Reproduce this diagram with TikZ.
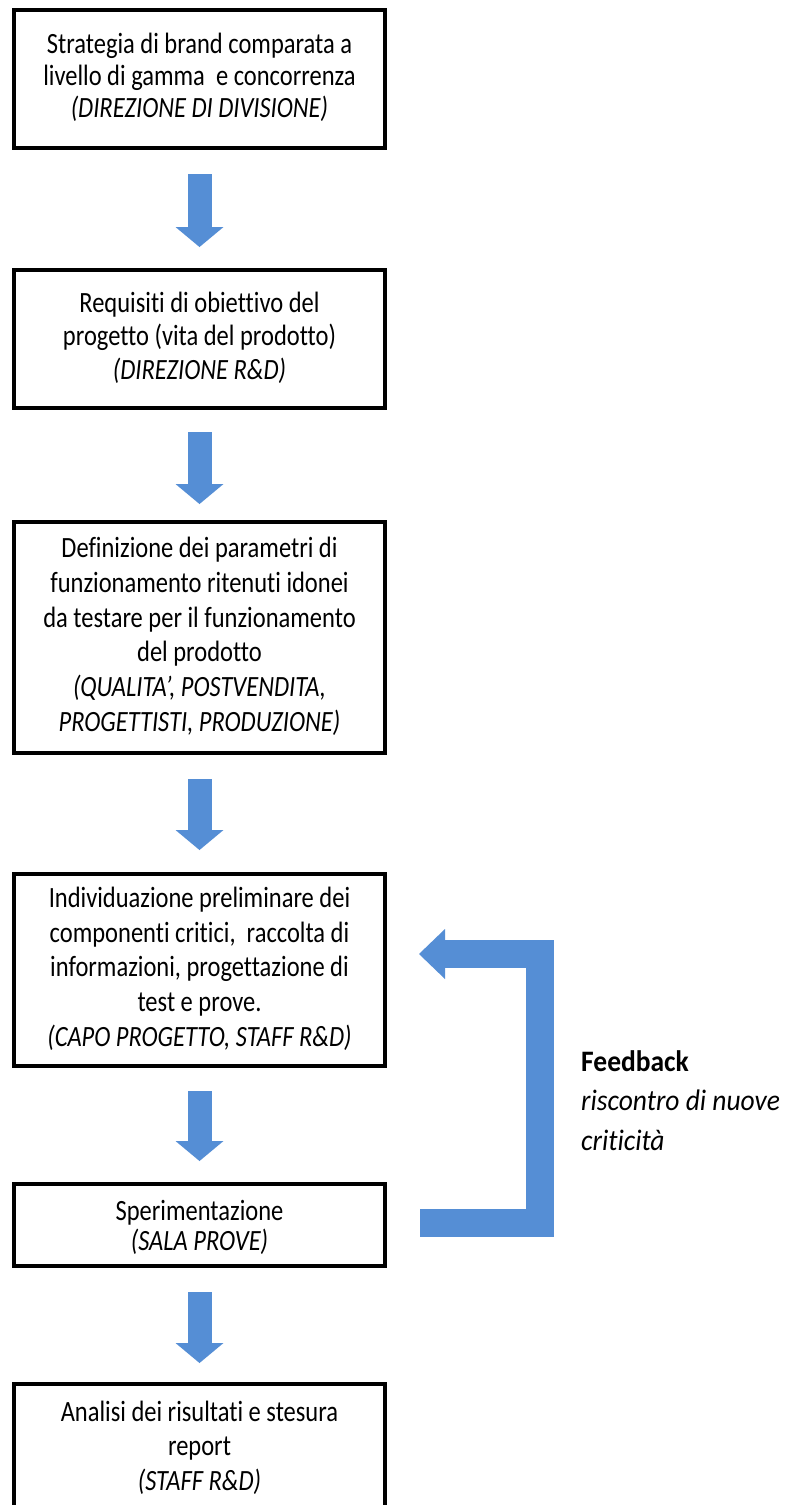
\documentclass[tikz,border=0pt]{standalone}
\usepackage{fontspec}
\setmainfont[Ligatures=NoCommon]{Carlito}
\usepackage{graphicx}
\usetikzlibrary{arrows.meta}
\definecolor{arrowblue}{RGB}{85,142,213}
\newcommand\mytxt[2][29]{\scalebox{1}[1.2]{\fontsize{24.5}{#1}\selectfont\begin{tabular}{@{}c@{}}#2\end{tabular}}}
\begin{document}
\begin{tikzpicture}[x=1pt,y=-1pt,
  boxnode/.style={draw=black, line width=4pt, minimum width=371pt, inner sep=0pt},
  flowarrow/.style={draw=arrowblue, line width=24pt, -{Triangle[width=48pt,length=20pt,line width=0pt]}},
  fbarrow/.style={draw=arrowblue, line width=28pt, line join=miter, -{Triangle[width=50pt,length=26pt,line width=0pt]}}]
\useasboundingbox[fill=white] (0,0) rectangle (791,1505);

\node[boxnode, minimum height=138pt] (b1) at (199.5,79)
  {\mytxt[27]{Strategia di brand comparata a\\livello di gamma\ \ e concorrenza\\\itshape(DIREZIONE DI DIVISIONE)}};
\node[boxnode, minimum height=138pt] (b2) at (199.5,339)
  {\mytxt[28]{Requisiti di obiettivo del\\progetto (vita del prodotto)\\\itshape(DIREZIONE R\&D)}};
\node[boxnode, minimum height=231pt] (b3) at (199.5,637.5)
  {\mytxt[29]{Definizione dei parametri di\\funzionamento ritenuti idonei\\da testare per il funzionamento\\del prodotto\\\itshape(QUALITA’, POSTVENDITA,\\\itshape PROGETTISTI, PRODUZIONE)}};
\node[boxnode, minimum height=192pt] (b4) at (199.5,970)
  {\mytxt[29]{Individuazione preliminare dei\\componenti critici,\ \ raccolta di\\informazioni, progettazione di\\test e prove.\\\itshape(CAPO PROGETTO, STAFF R\&D)}};
\node[boxnode, minimum height=82pt] (b5) at (199.5,1225)
  {\raisebox{-5pt}[\height][\depth]{\mytxt[24]{Sperimentazione\\\itshape(SALA PROVE)}}};
\node[boxnode, minimum height=130pt] (b6) at (199.5,1449)
  {\mytxt[29]{Analisi dei risultati e stesura\\report\\\itshape(STAFF R\&D)}};

\draw[flowarrow] ([yshift=-24pt]b1.south) -- ([yshift=21pt]b2.north);
\draw[flowarrow] ([yshift=-22pt]b2.south) -- ([yshift=16pt]b3.north);
\draw[flowarrow] ([yshift=-24pt]b3.south) -- ([yshift=22pt]b4.north);
\draw[flowarrow] ([yshift=-23pt]b4.south) -- ([yshift=21pt]b5.north);
\draw[flowarrow] ([yshift=-24pt]b5.south) -- ([yshift=19pt]b6.north);

\coordinate (fbs) at ([xshift=33pt,yshift=2pt]b5.east);
\coordinate (fbc) at (540,954);
\coordinate (fbe) at ([xshift=32pt,yshift=16pt]b4.east);
\draw[fbarrow] (fbs) -| (fbc) -- (fbe);

\node[anchor=west, inner sep=0pt] (fb) at (581,1103)
  {\scalebox{1}[1.08]{\fontsize{27.5}{36.5}\selectfont\begin{tabular}{@{}l@{}}\bfseries Feedback\\\itshape riscontro di nuove\\\itshape criticità\end{tabular}}};
\end{tikzpicture}
\end{document}
